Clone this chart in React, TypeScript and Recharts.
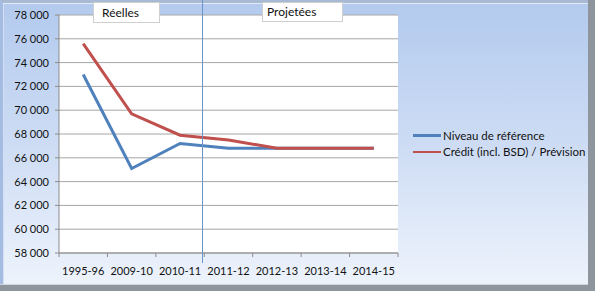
import React from 'react';
import { LineChart, Line, XAxis, YAxis, CartesianGrid, Legend } from 'recharts';

const categories = ['1995-96', '2009-10', '2010-11', '2011-12', '2012-13', '2013-14', '2014-15'];
const niveauReference = [73000, 65100, 67200, 66800, 66800, 66800, 66800];
const creditPrevision = [75600, 69700, 67900, 67500, 66800, 66800, 66800];
const yTicks = [58000, 60000, 62000, 64000, 66000, 68000, 70000, 72000, 74000, 76000, 78000];

const seriesNames = ['Niveau de référence', 'Crédit (incl. BSD) / Prévision'];

const data = categories.map((cat, i) => ({
  cat,
  niveau: niveauReference[i],
  credit: creditPrevision[i],
}));

const W = 595;
const H = 291;
const Y_AXIS_W = 59;
const MARGIN = { top: 15, right: 197, left: 0, bottom: 8 };
const PLOT_W = W - Y_AXIS_W - MARGIN.right;
const HALF = PLOT_W / categories.length / 2;
const AXIS_GREY = '#8c8c8c';

// format 78000 -> "78 000"
const fmt = (v: number) => String(v).replace(/\B(?=(\d{3})+(?!\d))/g, ' ');

// category axis with tick marks between categories (like Excel)
const XTick = (props: any) => {
  const { x, y, payload, index } = props;
  return (
    <g>
      <line x1={x - HALF} x2={x - HALF} y1={y} y2={y + 4} stroke={AXIS_GREY} />
      {index === categories.length - 1 && (
        <line x1={x + HALF} x2={x + HALF} y1={y} y2={y + 4} stroke={AXIS_GREY} />
      )}
      <text x={x} y={y + 22} textAnchor="middle" fontSize={11} fill="#111">
        {payload.value}
      </text>
    </g>
  );
};

const LegendContent = (props: any) => {
  // keep series order, not alphabetical
  const payload = [...(props.payload || [])].sort(
    (a: any, b: any) => seriesNames.indexOf(a.value) - seriesNames.indexOf(b.value)
  );
  return (
    <div>
      {payload.map((entry: any) => (
        <div key={entry.value} style={{ display: 'flex', alignItems: 'center', height: 16.5, fontSize: 11.5, color: '#111' }}>
          <span style={{ display: 'inline-block', width: 28, height: 2.5, background: entry.color, marginRight: 2 }} />
          {entry.value}
        </div>
      ))}
    </div>
  );
};

const boxStyle: React.CSSProperties = {
  position: 'absolute',
  background: '#fff',
  border: '1px solid #cfcfcf',
  fontFamily: 'Lato',
  fontSize: 12,
  color: '#111',
  boxSizing: 'border-box',
  paddingLeft: 8,
  lineHeight: '19px',
};

export default function App() {
  return (
    <div style={{ position: 'absolute', left: 0, top: 0, width: W, height: H, background: '#8e959d', overflow: 'hidden' }}>
      <div
        style={{
          position: 'absolute',
          left: 0,
          top: 0,
          width: 588,
          height: 284,
          boxSizing: 'border-box',
          borderTop: '3px solid #a8b9d4',
          borderLeft: '3px solid #a4bbe2',
          background: 'linear-gradient(180deg, #b3caee 0%, #cddcf4 50%, #edf3fc 100%)',
          boxShadow: 'inset 0 1px 0 #e3ebf7, inset 1px 0 0 #d5e1f3, 0 1px 0 #cfd6df',
        }}
      />
      <div style={{ position: 'absolute', left: 0, top: 0 }}>
        <LineChart width={W} height={H} data={data} margin={MARGIN} style={{ fontFamily: 'Lato' }}>
          <CartesianGrid vertical={false} stroke="#a6a6a6" fill="#ffffff" fillOpacity={1} />
          <XAxis
            dataKey="cat"
            interval={0}
            padding={{ left: HALF, right: HALF }}
            axisLine={{ stroke: AXIS_GREY }}
            tickLine={false}
            tickSize={0}
            tickMargin={0}
            height={30}
            tick={<XTick />}
          />
          <YAxis
            width={Y_AXIS_W}
            domain={[58000, 78000]}
            ticks={yTicks}
            interval={0}
            tickFormatter={fmt}
            axisLine={{ stroke: AXIS_GREY }}
            tickLine={{ stroke: AXIS_GREY }}
            tickSize={4}
            tickMargin={6}
            tick={{ fill: '#111', fontSize: 11 }}
          />
          <Legend
            layout="vertical"
            align="center"
            verticalAlign="middle"
            content={<LegendContent />}
            wrapperStyle={{ left: 413, top: 127, width: 175 }}
          />
          <Line
            type="linear"
            dataKey="niveau"
            name={seriesNames[0]}
            stroke="#4f81bd"
            strokeWidth={3}
            dot={false}
            isAnimationActive={false}
          />
          <Line
            type="linear"
            dataKey="credit"
            name={seriesNames[1]}
            stroke="#c0504d"
            strokeWidth={3}
            dot={false}
            isAnimationActive={false}
          />
        </LineChart>
      </div>
      <div style={{ position: 'absolute', left: 202, top: 0, width: 1, height: 263, background: '#6b95c8' }} />
      <div style={{ ...boxStyle, left: 93, top: 2, width: 67, height: 21 }}>Réelles</div>
      <div style={{ ...boxStyle, left: 262, top: 2, width: 81, height: 20, paddingLeft: 4, lineHeight: '17px' }}>Projetées</div>
    </div>
  );
}
